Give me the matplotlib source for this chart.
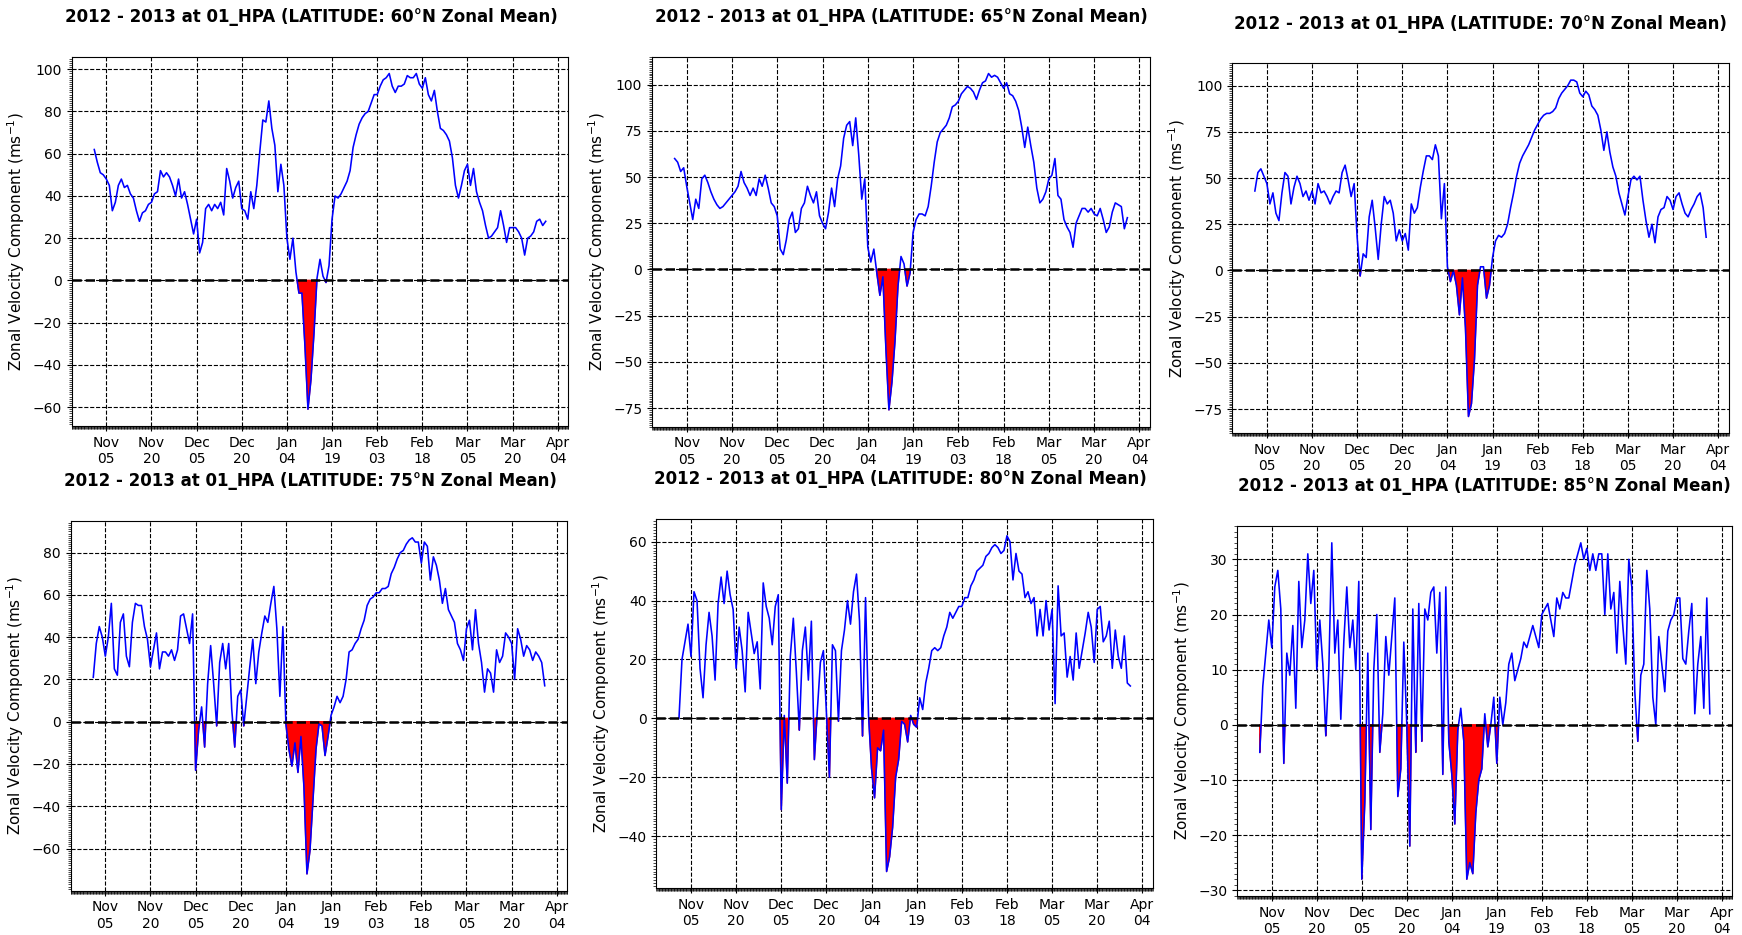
"""
    Viento zonal a 1 hPa, invierno 2012 - 2013, seis latitudes
"""
import numpy as np
import pandas as pd
import matplotlib
matplotlib.use('Agg')
import matplotlib.pyplot as plt
import matplotlib.dates as mdates
from matplotlib.ticker import MultipleLocator

# datos diarios (1 nov 2012 - 31 mar 2013)
fechas = pd.date_range('2012-11-01', periods=151, freq='D')
latitudes = [60, 65, 70, 75, 80, 85]

u60 = [62, 56, 51, 50, 48, 45, 33, 37, 45, 48, 44, 45, 41, 39, 33, 28, 32, 33, 36, 37,
       41, 42, 52, 49, 51, 49, 45, 40, 48, 39, 42, 36, 29, 22, 29, 13, 18, 34, 36, 33,
       36, 34, 37, 31, 53, 47, 39, 44, 47, 34, 33, 29, 42, 34, 45, 61, 76, 75, 85, 72,
       64, 42, 55, 45, 20, 10, 20, 4, -6, -6, -31, -61, -47, -25, 1, 10, 2, -1, 7, 29,
       40, 39, 41, 44, 47, 52, 63, 69, 74, 77, 79, 80, 84, 88, 88, 92, 95, 96, 98, 92,
       89, 92, 92, 93, 97, 96, 96, 98, 93, 91, 96, 88, 85, 90, 80, 72, 71, 69, 66, 58,
       45, 39, 45, 52, 55, 45, 53, 42, 37, 33, 26, 20, 21, 23, 25, 33, 26, 18, 25, 25,
       25, 23, 20, 12, 20, 21, 23, 28, 29, 26, 28]

u65 = [60, 58, 53, 55, 45, 36, 27, 38, 33, 49, 51, 47, 42, 38, 35, 33, 34, 36, 38, 40,
       42, 45, 53, 47, 44, 40, 44, 40, 49, 45, 51, 44, 36, 34, 29, 11, 8, 16, 27, 31,
       20, 22, 33, 36, 45, 40, 36, 42, 29, 25, 22, 31, 44, 34, 49, 56, 71, 78, 80, 67,
       82, 62, 38, 49, 12, 4, 11, -2, -14, -4, -43, -76, -61, -39, -9, 7, 3, -9, -2, 20,
       27, 30, 30, 29, 34, 45, 58, 69, 74, 76, 78, 82, 88, 89, 91, 95, 97, 99, 98, 96,
       92, 97, 101, 102, 106, 104, 105, 104, 101, 98, 101, 95, 94, 91, 86, 77, 66, 77, 67, 58,
       44, 36, 38, 42, 49, 51, 60, 40, 38, 27, 23, 20, 12, 25, 29, 33, 33, 31, 33, 30,
       29, 33, 27, 20, 23, 31, 36, 35, 34, 22, 28]

u70 = [43, 53, 55, 51, 47, 36, 42, 31, 27, 42, 53, 51, 36, 45, 51, 47, 40, 43, 38, 43,
       36, 47, 42, 43, 40, 36, 40, 43, 42, 53, 57, 49, 40, 47, 18, -3, 9, 7, 29, 38,
       23, 6, 25, 40, 36, 38, 31, 16, 22, 16, 20, 11, 36, 31, 34, 45, 54, 62, 62, 60,
       68, 62, 28, 47, 2, -6, 0, -8, -24, -4, -31, -79, -72, -48, -8, 2, 2, -15, -8, 7,
       16, 19, 18, 20, 25, 34, 42, 51, 58, 62, 65, 68, 72, 76, 79, 82, 84, 85, 85, 86,
       88, 93, 96, 98, 100, 103, 103, 102, 96, 94, 97, 95, 89, 87, 84, 76, 65, 75, 64, 56,
       51, 42, 36, 30, 40, 49, 51, 49, 51, 38, 27, 18, 25, 15, 29, 33, 34, 40, 38, 33,
       40, 42, 36, 31, 29, 33, 36, 40, 42, 34, 18]

u75 = [21, 37, 45, 40, 31, 40, 56, 25, 22, 47, 51, 31, 26, 47, 56, 55, 55, 45, 39, 26,
       34, 42, 25, 33, 33, 31, 34, 29, 34, 50, 51, 44, 37, 51, -23, -4, 7, -12, 18, 36,
       18, -2, 28, 37, 25, 37, 6, -12, 12, 15, -2, 12, 26, 39, 18, 33, 42, 50, 47, 56,
       64, 44, 12, 45, -1, -13, -21, -10, -24, -7, -31, -72, -61, -37, -13, -1, -2, -16, -7, 3,
       7, 12, 9, 12, 20, 33, 34, 37, 39, 44, 48, 55, 58, 59, 61, 61, 63, 63, 64, 70,
       73, 77, 80, 81, 84, 86, 87, 85, 85, 75, 85, 83, 67, 78, 74, 67, 56, 63, 53, 50,
       47, 37, 34, 29, 44, 48, 34, 53, 37, 28, 14, 25, 23, 14, 34, 28, 31, 42, 40, 37,
       20, 44, 39, 31, 36, 34, 29, 33, 31, 28, 17]

u80 = [0, 20, 26, 32, 21, 43, 40, 17, 7, 25, 36, 28, 13, 39, 48, 39, 50, 42, 37, 17,
       31, 23, 9, 36, 29, 22, 26, 10, 46, 38, 34, 25, 38, 42, -31, 1, -22, 21, 34, 16,
       -4, 23, 31, 13, 33, -14, 3, 19, 23, 2, -20, 25, 23, -1, 23, 30, 40, 32, 43, 49,
       33, -6, 41, 1, -17, -27, -10, -11, -4, -52, -47, -37, -20, -14, -1, -2, -8, 1, -2, -3,
       7, 3, 12, 17, 23, 24, 23, 24, 28, 31, 36, 34, 36, 38, 38, 41, 41, 45, 47, 50,
       51, 52, 55, 56, 58, 59, 58, 56, 57, 62, 60, 47, 56, 50, 49, 41, 43, 39, 41, 28,
       37, 28, 40, 30, 37, 5, 45, 28, 29, 14, 21, 13, 29, 17, 23, 29, 36, 31, 19, 37,
       38, 26, 28, 33, 17, 30, 21, 17, 28, 12, 11]

u85 = [-5, 7, 13, 19, 14, 25, 28, 21, -7, 13, 9, 18, 3, 26, 14, 19, 31, 22, 28, 10,
       19, 11, -2, 10, 33, 13, 19, 1, 15, 25, 14, 19, 10, 26, -28, -14, 13, -19, 10, 20,
       -5, 2, 16, 9, 16, 23, -13, -8, 15, 0, -22, 21, -5, 22, -3, 21, 19, 24, 25, 13,
       24, -9, 25, -3, -9, -18, -1, 3, -3, -28, -25, -27, -16, -10, -8, 2, -4, 0, 5, -7,
       5, 0, 4, 11, 13, 8, 10, 12, 15, 14, 16, 18, 16, 14, 20, 21, 22, 19, 16, 23,
       21, 24, 23, 23, 26, 29, 31, 33, 30, 32, 28, 31, 28, 31, 31, 20, 31, 21, 24, 13,
       26, 18, 11, 30, 25, 6, -3, 9, 11, 28, 21, 5, 0, 16, 11, 6, 17, 19, 20, 23,
       23, 12, 11, 17, 22, 2, 11, 16, 3, 23, 2]

series = [u60, u65, u70, u75, u80, u85]
ticks = pd.date_range('2012-11-05', '2013-04-04', freq='15D')

# cajas de cada panel en pixeles: izquierda, derecha, arriba, abajo
W, H = 1742, 935
cajas = [(71.7, 568.3, 56.7, 426.0), (652.0, 1150.0, 56.7, 426.7), (1232.3, 1728.7, 63.3, 433.3),
         (70.7, 567.3, 521.0, 890.7), (656.4, 1152.9, 519.0, 888.3), (1237.3, 1732.3, 526.0, 896.0)]
titulo_x = [0.482, 0.5, 0.5, 0.482, 0.492, 0.5]

fig = plt.figure(figsize=(W / 100, H / 100), dpi=100)

for lat, u, (l, r, t, b), tx in zip(latitudes, series, cajas, titulo_x):
    ax = fig.add_axes([l / W, 1 - b / H, (r - l) / W, (b - t) / H])
    u = np.array(u, dtype=float)
    ax.fill_between(fechas, u, 0, where=u < 0, color='red', interpolate=True, zorder=2)
    ax.plot(fechas, u, color='blue', lw=1.15, zorder=3)
    ax.axhline(0, color='black', ls='--', lw=1.8, zorder=4)

    ax.set_xticks(ticks)
    ax.xaxis.set_major_formatter(mdates.DateFormatter('%b\n%d'))
    ax.xaxis.set_minor_locator(mdates.HourLocator(byhour=[0, 6, 12, 18]))
    ax.yaxis.set_minor_locator(MultipleLocator(1))
    ax.tick_params(which='major', labelsize=10, length=3.5)
    ax.tick_params(which='minor', length=2, width=0.5)
    ax.grid(True, which='major', color='black', ls='--', lw=0.8, zorder=1)
    ax.set_axisbelow(True)

    ax.set_ylabel('Zonal Velocity Component (ms$^{-1}$)', fontsize=11)
    ax.set_title(f'2012 - 2013 at 01_HPA (LATITUDE: {lat}°N Zonal Mean)',
                 fontsize=12, fontweight='bold', pad=25, x=tx)

fig.savefig('out.png', dpi=100)
